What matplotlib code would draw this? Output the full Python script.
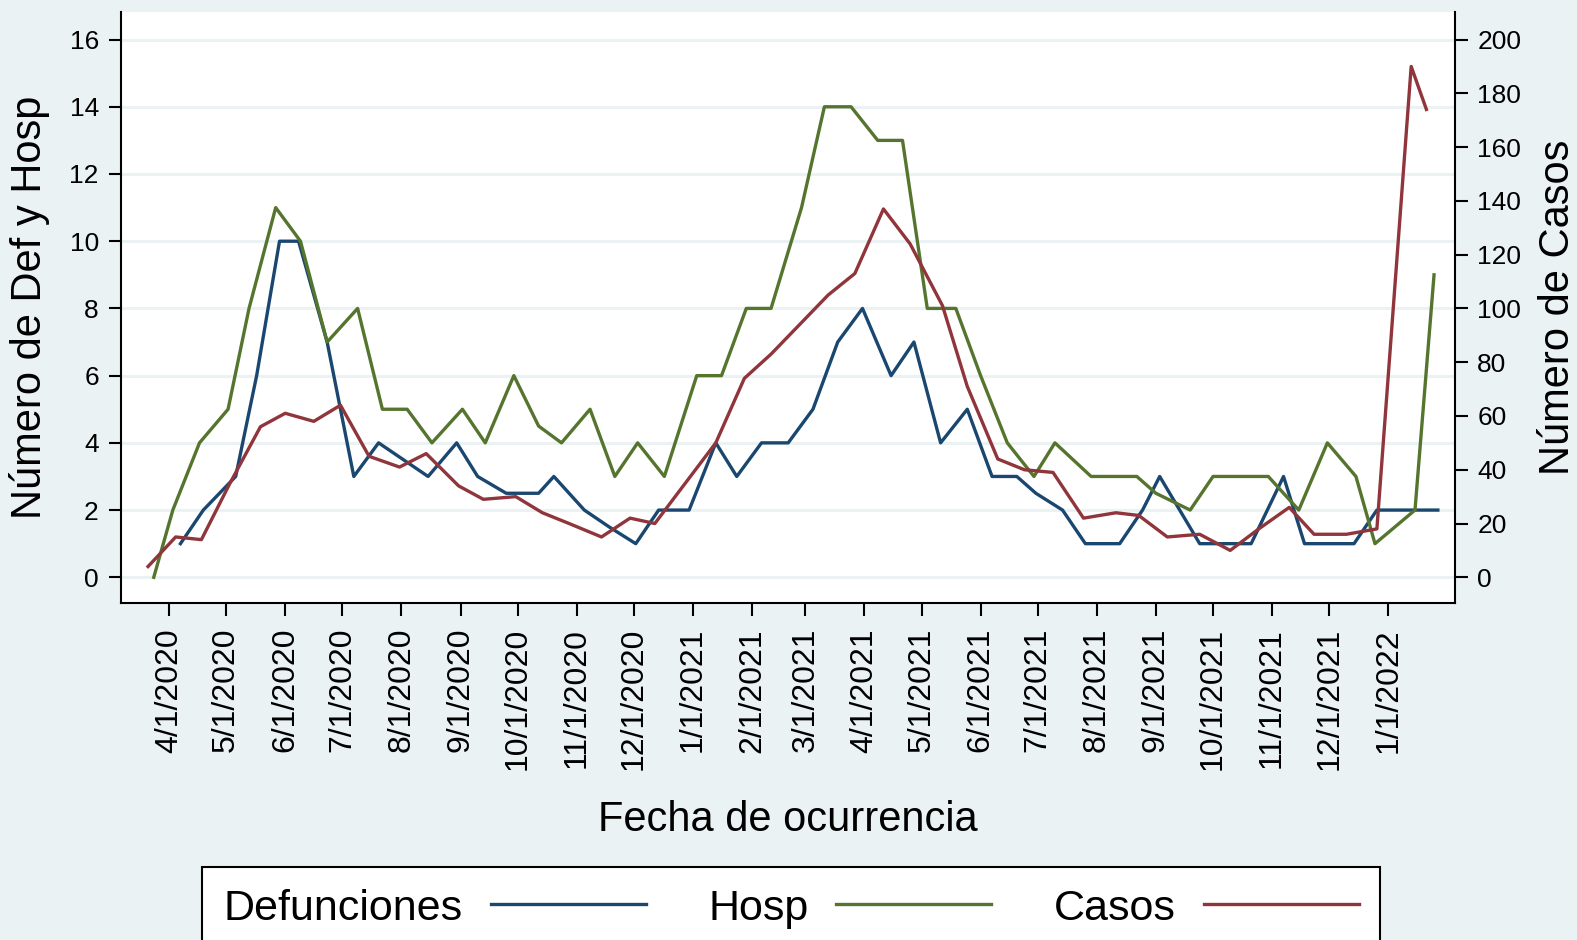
import numpy as np
import pandas as pd
import matplotlib
matplotlib.use("Agg")
import matplotlib.pyplot as plt

plt.rcParams['font.family'] = ['Liberation Sans', 'DejaVu Sans']

# ---------- data (x = days since 4/1/2020) ----------
base = pd.Timestamp('2020-04-01')

def_days = [6, 18, 35, 46, 58, 68, 83, 97, 110, 123, 136, 151, 162, 177, 194, 202,
            218, 231, 245, 257, 273, 287, 298, 311, 325, 338, 351, 364, 379, 391,
            405, 419, 432, 445, 455, 469, 481, 499, 511, 520, 541, 556, 568, 585,
            596, 609, 622, 634, 650, 666]
def_vals = [1, 2, 3, 6, 10, 10, 7, 3, 4, 3.5, 3, 4, 3, 2.5, 2.5, 3,
            2, 1.5, 1, 2, 2, 4, 3, 4, 4, 5, 7, 8, 6, 7,
            4, 5, 3, 3, 2.5, 2, 1, 1, 2, 3, 1, 1, 1, 3,
            1, 1, 1, 2, 2, 2]

hosp_days = [-8, 2, 16, 31, 42, 56, 69, 83, 99, 112, 125, 138, 154, 166, 181, 194,
             206, 221, 234, 246, 260, 277, 290, 303, 316, 332, 344, 358, 372, 385,
             398, 413, 426, 440, 454, 465, 484, 496, 508, 518, 536, 548, 563, 577,
             593, 608, 623, 633, 654, 664]
hosp_vals = [0, 2, 4, 5, 8, 11, 10, 7, 8, 5, 5, 4, 5, 4, 6, 4.5,
             4, 5, 3, 4, 3, 6, 6, 8, 8, 11, 14, 14, 13, 13,
             8, 8, 6, 4, 3, 4, 3, 3, 3, 2.5, 2, 3, 3, 3,
             2, 4, 3, 1, 2, 9]

casos_days = [-11, 3.5, 17, 32, 48, 61, 76, 90, 105, 121, 135, 152, 165, 182, 196,
              210, 227, 242, 255, 271, 287, 302, 316, 331, 346, 360, 375, 389, 406,
              419, 435, 449, 464, 480, 497, 509, 524, 541, 557, 572, 588, 601, 618,
              634, 652, 660]
casos_vals = [4, 15, 14, 35, 56, 61, 58, 64, 45, 41, 46, 34, 29, 30, 24,
              20, 15, 22, 20, 35, 50, 74, 83, 94, 105, 113, 137, 124, 101,
              71, 44, 40, 39, 22, 24, 23, 15, 16, 10, 18, 26, 16, 16,
              18, 190, 174]

tick_dates = pd.date_range('2020-04-01', '2022-01-01', freq='MS')
tick_labels = [f'{d.month}/{d.day}/{d.year}' for d in tick_dates]

def to_dates(days):
    return base + pd.to_timedelta(np.array(days, dtype=float), unit='D')

# ---------- style ----------
bg = (234/255, 242/255, 243/255)
c_def = (26/255, 71/255, 111/255)
c_hosp = (85/255, 117/255, 47/255)
c_casos = (144/255, 53/255, 59/255)
lw = 2.4

fig = plt.figure(figsize=(15.77, 9.40), dpi=100, facecolor=bg)
ax = fig.add_axes([121/1577, 1 - 603/940, (1455 - 121)/1577, (603 - 12)/940])
ax.set_facecolor('white')

l1, = ax.plot(to_dates(def_days), def_vals, color=c_def, lw=lw, label='Defunciones')
l2, = ax.plot(to_dates(hosp_days), hosp_vals, color=c_hosp, lw=lw, label='Hosp')

ax2 = ax.twinx()
l3, = ax2.plot(to_dates(casos_days), casos_vals, color=c_casos, lw=lw, label='Casos')

ax.set_xlim(base + pd.Timedelta(days=-25.2), base + pd.Timedelta(days=675))
ax.set_ylim(-0.765, 16.82)
ax2.set_ylim(-0.765 * 12.5, 16.82 * 12.5)
ax.set_yticks(np.arange(0, 17, 2))
ax2.set_yticks(np.arange(0, 201, 20))
ax.set_xticks(tick_dates)
ax.set_xticklabels(tick_labels, rotation=90)

ax.grid(True, axis='y', color=bg, lw=2.2)
ax.set_axisbelow(True)

for a in (ax, ax2):
    a.spines['top'].set_visible(False)
    for s in a.spines.values():
        s.set_linewidth(1.5)
ax.spines['right'].set_visible(False)
ax2.spines['left'].set_visible(False)
ax2.spines['bottom'].set_visible(False)

ax.tick_params(axis='y', length=9, width=1.5, labelsize=19, pad=7)
ax.tick_params(axis='x', length=9, width=1.5, labelsize=23, pad=9)
ax2.tick_params(axis='y', length=9, width=1.5, labelsize=19, pad=7)

ax.set_ylabel('Número de Def y Hosp', fontsize=30)
ax.yaxis.set_label_coords(-0.053, 0.5)
ax2.set_ylabel('Número de Casos', fontsize=30)
ax2.yaxis.set_label_coords(1.062, 0.5)
ax.set_xlabel('Fecha de ocurrencia', fontsize=30)
ax.xaxis.set_label_coords(0.5, -0.333)

leg = fig.legend([l1, l2, l3], ['Defunciones', 'Hosp', 'Casos'],
                 loc='upper left', bbox_to_anchor=(202/1577, 1 - 867/940),
                 borderaxespad=0, ncol=3, markerfirst=False, fontsize=31,
                 handlelength=3.6, handletextpad=0.65, columnspacing=1.45,
                 borderpad=0.5, fancybox=False, edgecolor='black', framealpha=1)
leg.get_frame().set_linewidth(1.5)

fig.savefig('out.png', dpi=100, facecolor=bg)
